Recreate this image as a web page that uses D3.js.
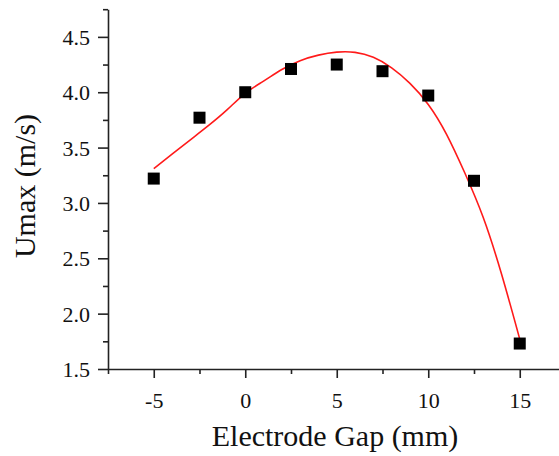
<!DOCTYPE html>
<html>
<head>
<meta charset="utf-8">
<script src="https://cdn.jsdelivr.net/npm/d3@7"></script>
<style>
  html, body { margin: 0; padding: 0; background: #fff; }
  svg { display: block; }
</style>
</head>
<body>
<svg id="chart" width="559" height="456"></svg>
<script>
// Data
const gaps = [-5, -2.5, 0, 2.5, 5, 7.5, 10, 12.5, 15];
const umax = [3.22, 3.77, 4.00, 4.21, 4.25, 4.19, 3.97, 3.20, 1.73];
// Fit curve
const fitX = [-5, -4, -3, -2, -1, 0, 1, 2, 3, 4, 5, 6, 7, 8, 9, 10, 11, 12, 13, 14, 15];
const fitY = [3.31, 3.44, 3.57, 3.70, 3.84, 3.99, 4.10, 4.205, 4.285, 4.335, 4.362, 4.36, 4.315, 4.22, 4.08, 3.89, 3.62, 3.27, 2.87, 2.36, 1.77];
const xMajor = [-5, 0, 5, 10, 15];
const xMinor = [-7.5, -2.5, 2.5, 7.5, 12.5, 17.5];
const yMajor = [1.5, 2.0, 2.5, 3.0, 3.5, 4.0, 4.5];
const yMinor = [1.75, 2.25, 2.75, 3.25, 3.75, 4.25, 4.75];

const svg = d3.select("#chart");
const font = "'Liberation Serif', 'Times New Roman', serif";
const textColor = "#111";

const x = d3.scaleLinear().domain([-7.5, 17.5]).range([108, 565.5]);
const y = d3.scaleLinear().domain([1.5, 4.75]).range([369, 9.2]);

// X axis
const gx = svg.append("g").attr("transform", `translate(0,${y(1.5)})`);
gx.call(d3.axisBottom(x).tickValues(xMajor).tickSize(9).tickSizeOuter(0).tickFormat(d => String(d)))
  .call(g => {
    g.select(".domain").attr("stroke", "#222").attr("stroke-width", 1.6);
    g.selectAll(".tick line").attr("stroke", "#222").attr("stroke-width", 1.6);
    g.selectAll(".tick text").attr("font-family", font).attr("font-size", 22)
      .attr("fill", textColor).attr("dy", 0).attr("y", 39);
  });
const gxm = svg.append("g").attr("transform", `translate(0,${y(1.5)})`);
gxm.call(d3.axisBottom(x).tickValues(xMinor).tickSize(5).tickFormat(""))
  .call(g => {
    g.select(".domain").remove();
    g.selectAll(".tick line").attr("stroke", "#222").attr("stroke-width", 1.6);
  });

// Y axis
const gy = svg.append("g").attr("transform", `translate(${x(-7.5)},0)`);
gy.call(d3.axisLeft(y).tickValues(yMajor).tickSize(10).tickSizeOuter(0).tickFormat(d3.format(".1f")))
  .call(g => {
    g.select(".domain").attr("stroke", "#222").attr("stroke-width", 1.6);
    g.selectAll(".tick line").attr("stroke", "#222").attr("stroke-width", 1.6);
    g.selectAll(".tick text").attr("font-family", font).attr("font-size", 22)
      .attr("fill", textColor).attr("x", -18).attr("dy", "0.34em");
  });
const gym = svg.append("g").attr("transform", `translate(${x(-7.5)},0)`);
gym.call(d3.axisLeft(y).tickValues(yMinor).tickSize(5).tickFormat(""))
  .call(g => {
    g.select(".domain").remove();
    g.selectAll(".tick line").attr("stroke", "#222").attr("stroke-width", 1.6);
  });

// Fit curve
const fitData = fitX.map((d, i) => [d, fitY[i]]);
svg.append("path")
  .datum(fitData)
  .attr("fill", "none")
  .attr("stroke", "#ff1a1a")
  .attr("stroke-width", 1.6)
  .attr("d", d3.line().x(d => x(d[0])).y(d => y(d[1])).curve(d3.curveNatural));

// Points
const pts = gaps.map((d, i) => [d, umax[i]]);
const s = 12;
svg.append("g").selectAll("rect").data(pts).join("rect")
  .attr("x", d => x(d[0]) - s / 2)
  .attr("y", d => y(d[1]) - s / 2)
  .attr("width", s).attr("height", s)
  .attr("fill", "#000");

// Axis titles
svg.append("text")
  .attr("x", 335).attr("y", 446)
  .attr("text-anchor", "middle")
  .attr("font-family", font).attr("font-size", 30).attr("fill", textColor)
  .text("Electrode Gap (mm)");

svg.append("text")
  .attr("transform", "translate(35,186) rotate(-90)")
  .attr("text-anchor", "middle")
  .attr("font-family", font).attr("font-size", 30).attr("fill", textColor)
  .text("Umax (m/s)");
</script>
</body>
</html>
